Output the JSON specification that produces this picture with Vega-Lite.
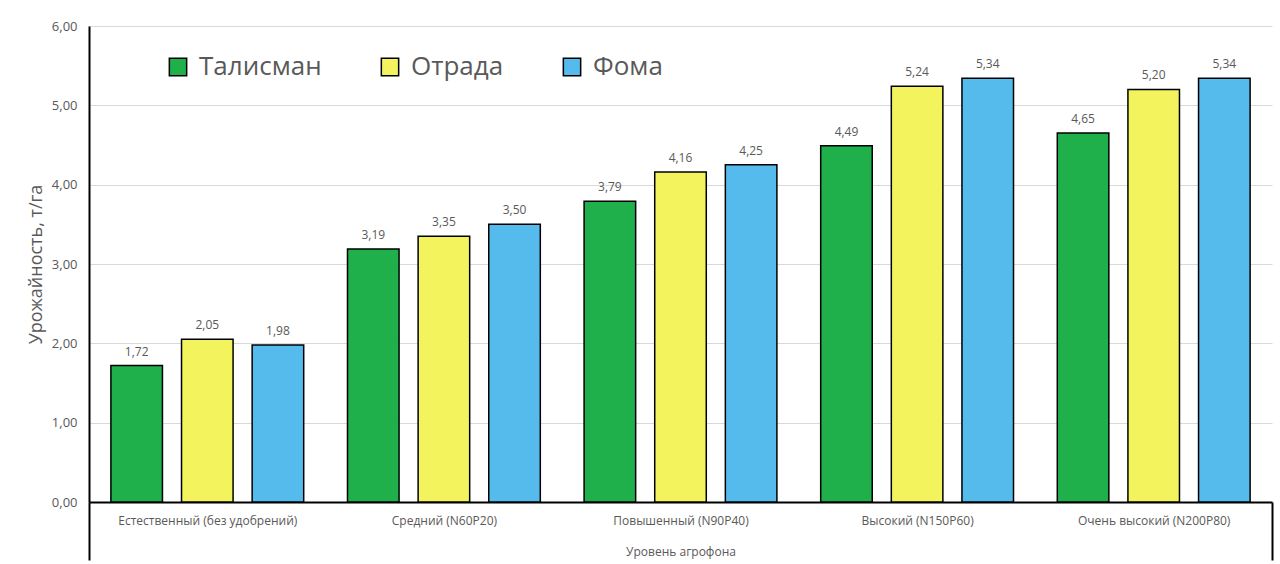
{
  "$schema": "https://vega.github.io/schema/vega-lite/v6.json",
  "autosize": {"type": "none"},
  "width": 1183,
  "height": 476,
  "padding": {"left": 89, "top": 26, "right": 8, "bottom": 62},
  "background": "white",
  "config": {
    "view": {"stroke": null},
    "font": "Open Sans",
    "axis": {"labelColor": "#595959", "titleColor": "#595959", "labelFont": "Open Sans", "titleFont": "Open Sans", "titleFontWeight": "normal"}
  },
  "data": {
    "values": [
      {"level": "Естественный (без удобрений)", "variety": "Талисман", "value": 1.72},
      {"level": "Естественный (без удобрений)", "variety": "Отрада", "value": 2.05},
      {"level": "Естественный (без удобрений)", "variety": "Фома", "value": 1.98},
      {"level": "Средний (N60P20)", "variety": "Талисман", "value": 3.19},
      {"level": "Средний (N60P20)", "variety": "Отрада", "value": 3.35},
      {"level": "Средний (N60P20)", "variety": "Фома", "value": 3.50},
      {"level": "Повышенный (N90P40)", "variety": "Талисман", "value": 3.79},
      {"level": "Повышенный (N90P40)", "variety": "Отрада", "value": 4.16},
      {"level": "Повышенный (N90P40)", "variety": "Фома", "value": 4.25},
      {"level": "Высокий (N150P60)", "variety": "Талисман", "value": 4.49},
      {"level": "Высокий (N150P60)", "variety": "Отрада", "value": 5.24},
      {"level": "Высокий (N150P60)", "variety": "Фома", "value": 5.34},
      {"level": "Очень высокий (N200P80)", "variety": "Талисман", "value": 4.65},
      {"level": "Очень высокий (N200P80)", "variety": "Отрада", "value": 5.20},
      {"level": "Очень высокий (N200P80)", "variety": "Фома", "value": 5.34}
    ]
  },
  "transform": [
    {"calculate": "replace(format(datum.value, '.2f'), '.', ',')", "as": "label"}
  ],
  "encoding": {
    "x": {
      "field": "level", "type": "nominal", "sort": null,
      "scale": {"paddingInner": 0, "paddingOuter": 0},
      "axis": {
        "title": "Уровень агрофона",
        "titleFontSize": 12,
        "titleBaseline": "alphabetic",
        "titleY": 53,
        "labelAngle": 0,
        "labelFontSize": 12,
        "labelPadding": -45,
        "tickBand": "extent",
        "tickSize": 58,
        "tickWidth": 2,
        "tickColor": {"condition": {"test": "datum.index < 0 || datum.index > 0.9", "value": "black"}, "value": "transparent"},
        "domainColor": "black",
        "domainWidth": 2,
        "grid": false
      }
    },
    "xOffset": {"field": "variety", "type": "nominal", "sort": ["Талисман", "Отрада", "Фома"], "scale": {"paddingInner": 0.27, "paddingOuter": 0.31}},
    "y": {
      "field": "value", "type": "quantitative",
      "scale": {"domain": [0, 6], "nice": false},
      "axis": {
        "title": "Урожайность, т/га",
        "titleFontSize": 18,
        "titlePadding": 6,
        "values": [0, 1, 2, 3, 4, 5, 6],
        "labelExpr": "replace(format(datum.value, '.2f'), '.', ',')",
        "labelFontSize": 13,
        "labelPadding": 12,
        "ticks": false,
        "domainColor": "black",
        "domainWidth": 2,
        "gridColor": "#d9d9d9",
        "gridWidth": 1
      }
    }
  },
  "layer": [
    {
      "mark": {"type": "bar", "stroke": "black", "strokeWidth": 1.5},
      "encoding": {
        "color": {
          "field": "variety", "type": "nominal",
          "sort": ["Талисман", "Отрада", "Фома"],
          "scale": {"domain": ["Талисман", "Отрада", "Фома"], "range": ["#1fb04c", "#f3f35e", "#55baec"]},
          "legend": {
            "title": null,
            "orient": "none",
            "direction": "horizontal",
            "legendX": 76,
            "legendY": 28,
            "symbolType": "square",
            "symbolSize": 300,
            "symbolStrokeColor": "black",
            "symbolStrokeWidth": 1.5,
            "symbolOpacity": 1,
            "labelFontSize": 26,
            "labelFont": "Open Sans",
            "labelColor": "#595959",
            "labelOffset": 8,
            "columnPadding": 55,
            "labelLimit": 400
          }
        }
      }
    },
    {
      "mark": {"type": "text", "dy": -14, "fontSize": 12, "color": "#595959", "font": "Open Sans"},
      "encoding": {"text": {"field": "label"}}
    }
  ]
}
